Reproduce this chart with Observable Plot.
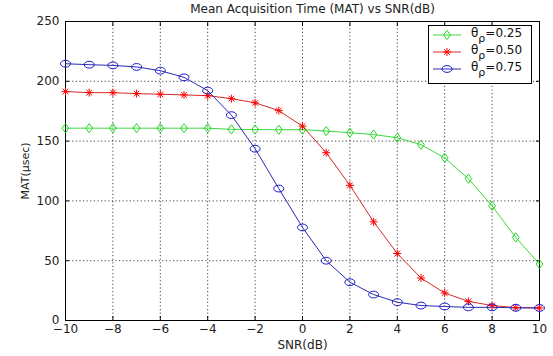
<!DOCTYPE html>
<html><head><meta charset="utf-8">
<script src="https://cdn.jsdelivr.net/npm/d3@7"></script>
<script src="https://cdn.jsdelivr.net/npm/@observablehq/plot@0.6"></script>
<style>
body{margin:0;background:#fff}
#wrap{position:relative;width:553px;height:356px;font-family:"DejaVu Sans",sans-serif}
#legend{position:absolute;left:428px;top:25px;width:104px;height:59px;border:1px solid #000;background:#fff;box-sizing:border-box;font-size:12px;color:#111}
.row{position:absolute;left:0;height:16px;display:flex;align-items:center}
.row svg{margin-left:3px}
.row span{margin-left:9px}
</style>
</head><body><div id="wrap"><div id="legend"></div></div>
<script>
const snr = [-10,-9,-8,-7,-6,-5,-4,-3,-2,-1,0,1,2,3,4,5,6,7,8,9,10];
const mat025 = [160.8,160.8,160.8,160.8,160.8,160.8,160.8,159.8,159.7,159.5,159.6,158.4,157,155.5,152.8,147,136,118.6,95.8,69.4,47.2];
const mat050 = [191.4,190.5,190.5,189.7,189.2,188.6,188,185.5,182,175.5,162.5,140.3,113,82.5,56,35.5,23,16,12.5,10.8,10.5];
const mat075 = [214.7,213.9,213.3,212,208.9,203.3,192.2,171.7,143.6,110.3,77.8,50,32,21.7,15.3,12.5,11.7,11,11,10.6,10.5];
const seriesLabels = ["0.25","0.50","0.75"];
const xTicks = [-10,-8,-6,-4,-2,0,2,4,6,8,10];
const yTicks = [0,50,100,150,200,250];

const lineColors = ["#3cd83c","#d42a2a","#2a2ab4"];
const markColors = ["#22d822","#ff0000","#1a1acc"];

function rOf(size){return Math.sqrt(size/Math.PI);}
const diamond = {draw(ctx,size){const r=rOf(size);const w=r*0.85,h=r*1.15;ctx.moveTo(0,-h);ctx.lineTo(w,0);ctx.lineTo(0,h);ctx.lineTo(-w,0);ctx.closePath();}};
const star = {draw(ctx,size){const r=rOf(size);const d=r*0.72;ctx.moveTo(-r,0);ctx.lineTo(r,0);ctx.moveTo(0,-r);ctx.lineTo(0,r);ctx.moveTo(-d,-d);ctx.lineTo(d,d);ctx.moveTo(-d,d);ctx.lineTo(d,-d);}};
const ellipse = {draw(ctx,size){const r=rOf(size);const a=r*1.25,b=r*0.85,k=0.5523;ctx.moveTo(a,0);ctx.bezierCurveTo(a,k*b,k*a,b,0,b);ctx.bezierCurveTo(-k*a,b,-a,k*b,-a,0);ctx.bezierCurveTo(-a,-k*b,-k*a,-b,0,-b);ctx.bezierCurveTo(k*a,-b,a,-k*b,a,0);ctx.closePath();}};
const symbols = [diamond, star, ellipse];
const allSeries = [mat025, mat050, mat075];

const data = allSeries.flatMap((vals,i)=>snr.map((x,j)=>({x, y: vals[j], s: i})));

const marks = [
  Plot.ruleX(xTicks, {x: d=>d, stroke:"#000", strokeDasharray:"1.2,2.4", strokeWidth:1, strokeOpacity:0.75}),
  Plot.ruleY(yTicks, {y: d=>d, stroke:"#000", strokeDasharray:"1.2,2.4", strokeWidth:1, strokeOpacity:0.75}),
  Plot.axisX(xTicks, {anchor:"bottom", tickSize:0, tickPadding:4, fontSize:12, fill:"#222", label:"SNR(dB)", labelAnchor:"center", labelOffset:28, labelArrow:"none"}),
  Plot.axisY(yTicks, {anchor:"left", tickSize:0, tickPadding:6, fontSize:12, fill:"#222", label:null}),
  Plot.axisY(yTicks, {anchor:"left", tickSize:0, tickFormat:()=>"", fontSize:11, fill:"#222", label:"MAT(µsec)", labelAnchor:"center", labelOffset:44, labelArrow:"none"}),
  Plot.axisX(xTicks, {anchor:"bottom", tickSize:-4, tickFormat:()=>"", label:null}),
  Plot.axisX(xTicks, {anchor:"top", tickSize:-4, tickFormat:()=>"", label:null}),
  Plot.axisY(yTicks, {anchor:"left", tickSize:-4, tickFormat:()=>"", label:null}),
  Plot.axisY(yTicks, {anchor:"right", tickSize:-4, tickFormat:()=>"", label:null}),
  Plot.frame({stroke:"#000"}),
  ...allSeries.map((vals,i)=>Plot.line(data.filter(d=>d.s===i), {x:"x", y:"y", stroke: lineColors[i], strokeWidth:1})),
  ...allSeries.map((vals,i)=>Plot.dot(data.filter(d=>d.s===i), {x:"x", y:"y", stroke: markColors[i], fill:"none", r:4, symbol: symbols[i], strokeWidth:1})),
  Plot.text(["Mean Acquisition Time (MAT) vs SNR(dB)"], {frameAnchor:"top", dy:-12, dx:10, fontSize:12, fill:"#222", text:d=>d, lineAnchor:"middle"})
];

const chart = Plot.plot({
  width:553, height:356,
  marginLeft:65, marginRight:14, marginTop:21, marginBottom:36,
  style:{fontFamily:"DejaVu Sans, sans-serif", background:"#fff", fontSize:"12.5px"},
  x:{domain:[-10,10]},
  y:{domain:[0,250]},
  marks
});
document.getElementById("wrap").prepend(chart);

// legend
const leg = d3.select("#legend");
seriesLabels.forEach((lab,i)=>{
  const row = leg.append("div").attr("class","row").style("top", (1 + i*17) + "px");
  const s = row.append("svg").attr("width",30).attr("height",16);
  s.append("line").attr("x1",1).attr("x2",29).attr("y1",8).attr("y2",8).attr("stroke",lineColors[i]).attr("stroke-width",1);
  const p = d3.path(); symbols[i].draw(p, 16*Math.PI);
  s.append("path").attr("d",p.toString()).attr("transform","translate(15,8)").attr("fill","none").attr("stroke",markColors[i]);
  row.append("span").html("θ<sub style='font-size:11px;vertical-align:-5px'>ρ</sub>=" + lab);
});
</script>
</body></html>
